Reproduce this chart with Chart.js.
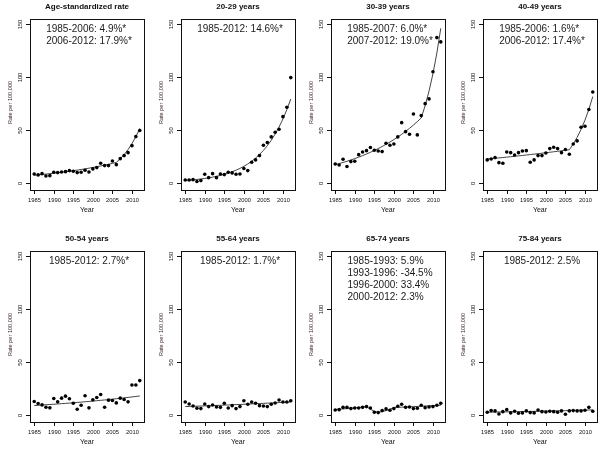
<!DOCTYPE html>
<html>
<head>
<meta charset="utf-8">
<script src="https://cdn.jsdelivr.net/npm/chart.js@4.4.1/dist/chart.umd.min.js"></script>
<style>
  html, body { margin: 0; padding: 0; background: #fff; overflow: hidden; }
  #wrap { position: relative; width: 600px; height: 453px; }
  #wrap canvas { position: absolute; }
</style>
</head>
<body>
<div id="wrap"></div>
<script>
const years = [1985, 1986, 1987, 1988, 1989, 1990, 1991, 1992, 1993, 1994, 1995, 1996, 1997, 1998,
               1999, 2000, 2001, 2002, 2003, 2004, 2005, 2006, 2007, 2008, 2009, 2010, 2011, 2012];
const xTicks = [1985, 1990, 1995, 2000, 2005, 2010];
const yTicks = [0, 50, 100, 150];

const titles = ['Age-standardized rate', '20-29 years', '30-39 years', '40-49 years',
                '50-54 years', '55-64 years', '65-74 years', '75-84 years'];
const notes = [
  ['1985-2006: 4.9%*', '2006-2012: 17.9%*'],
  ['1985-2012: 14.6%*'],
  ['1985-2007: 6.0%*', '2007-2012: 19.0%*'],
  ['1985-2006: 1.6%*', '2006-2012: 17.4%*'],
  ['1985-2012: 2.7%*'],
  ['1985-2012: 1.7%*'],
  ['1985-1993: 5.9%', '1993-1996: -34.5%', '1996-2000: 33.4%', '2000-2012: 2.3%'],
  ['1985-2012: 2.5%'],
];

// observed rates per 100,000
const obsStd = [8.2, 7.3, 8.5, 6.3, 6.6, 9.8, 9.5, 10, 10.4, 11.4, 10.7, 9.5, 9.8, 11.7,
                10.1, 13, 14.2, 18.3, 16.1, 16.1, 20.5, 17, 22.7, 25.6, 28.4, 35, 43.6, 49.3];
const obs2029 = [2.5, 2.5, 2.8, 1, 1.9, 7.9, 4.7, 8.5, 4.7, 8.2, 7.6, 9.8, 9.2, 7.9,
                 8.2, 13.3, 11.4, 19.3, 21.5, 25.6, 35.4, 37.9, 43.3, 47.7, 50.5, 62.5, 71.4, 99.5];
const obs3039 = [17.7, 16.7, 22.1, 15.2, 19.9, 20.2, 26.5, 29, 30.3, 33.2, 30.6, 30, 29.4, 37.3,
                 35.4, 36.6, 43.3, 56.8, 48.3, 45.8, 65, 45.2, 63.5, 74.8, 79.3, 105, 137.4, 133.3];
const obs4049 = [21.5, 22.4, 23.7, 18.9, 18.3, 29, 28.4, 26.2, 28.4, 30, 30.3, 19.3, 21.5, 25.6,
                 25.6, 28.1, 32.2, 33.5, 32.2, 28.4, 31.3, 26.8, 36.6, 39.5, 52.4, 53.4, 69.2, 85.9];
const obs5054 = [12.4, 10.5, 9.2, 7, 6.4, 15.3, 12.1, 15.6, 17.5, 15, 10.8, 5.1, 8.9, 17.8,
                 6.4, 14, 16.2, 19.1, 7, 13.7, 13.4, 11.1, 15.6, 14.3, 12.1, 28, 28, 32.2];
const obs5564 = [12, 10.1, 8.2, 6, 5.7, 10.1, 7.6, 9.1, 7.2, 6.9, 10.7, 6.3, 8.5, 5.7,
                 7.6, 13.2, 9.8, 12, 10.7, 8.5, 8.2, 7.6, 9.8, 11, 13.9, 12, 12, 13.2];
const obs6574 = [4.4, 4.7, 6.9, 6.9, 5.7, 6.3, 6.3, 6.9, 7.6, 6.3, 2.2, 1.9, 3.8, 5.4,
                 4.1, 5.7, 7.9, 9.8, 6.9, 7.2, 5.7, 6, 8.8, 6.6, 7.2, 7.6, 8.8, 10.7];
const obs7584 = [2.2, 3.8, 3.5, 0.6, 2.8, 4.7, 1.6, 3.2, 1.3, 1.6, 3.5, 1.9, 1.6, 4.4,
                 2.8, 2.5, 3.2, 2.8, 2.2, 3.5, 0.3, 3.5, 3.8, 3.5, 3.5, 4.1, 6.9, 3.2];

// joinpoint fitted curves
const fitStd = [7.0, 7.34, 7.7, 8.08, 8.48, 8.89, 9.33, 9.78, 10.26, 10.77, 11.29, 11.85, 12.43, 13.04,
                13.68, 14.35, 15.05, 15.79, 16.56, 17.37, 18.22, 19.12, 22.54, 26.57, 31.33, 36.94, 43.55, 51.35];
const fit2029 = [2.0, 2.29, 2.63, 3.01, 3.45, 3.95, 4.53, 5.19, 5.95, 6.82, 7.81, 8.95, 10.26, 11.76,
                 13.47, 15.44, 17.7, 20.28, 23.24, 26.63, 30.52, 34.98, 40.08, 45.93, 52.64, 60.33, 69.13, 79.23];
const fit3039 = [17.0, 18.02, 19.1, 20.25, 21.46, 22.75, 24.11, 25.56, 27.09, 28.72, 30.44, 32.27, 34.21, 36.26,
                 38.44, 40.74, 43.19, 45.78, 48.52, 51.44, 54.52, 57.79, 61.26, 72.9, 86.75, 103.2, 122.8, 146.2];
const fit4049 = [22.3, 22.66, 23.02, 23.39, 23.76, 24.14, 24.53, 24.92, 25.32, 25.73, 26.14, 26.56, 26.98, 27.41,
                 27.85, 28.3, 28.75, 29.21, 29.68, 30.15, 30.64, 31.13, 36.54, 42.9, 50.37, 59.13, 69.42, 81.5];
const fit5054 = [8.6, 8.83, 9.07, 9.32, 9.57, 9.83, 10.09, 10.36, 10.64, 10.93, 11.23, 11.53, 11.84, 12.16,
                 12.49, 12.83, 13.17, 13.53, 13.89, 14.27, 14.65, 15.05, 15.46, 15.87, 16.3, 16.74, 17.19, 17.66];
const fit5564 = [7.6, 7.73, 7.86, 7.99, 8.13, 8.27, 8.41, 8.55, 8.7, 8.84, 9.0, 9.15, 9.3, 9.46,
                 9.62, 9.79, 9.95, 10.12, 10.3, 10.47, 10.65, 10.83, 11.02, 11.2, 11.39, 11.59, 11.79, 11.99];
const fit6574 = [4.8, 5.08, 5.38, 5.7, 6.04, 6.39, 6.77, 7.17, 7.59, 4.97, 3.26, 2.13, 2.85, 3.8,
                 5.07, 6.76, 6.92, 7.08, 7.24, 7.41, 7.58, 7.75, 7.93, 8.11, 8.3, 8.49, 8.68, 8.88];
const fit7584 = [2.3, 2.36, 2.42, 2.48, 2.54, 2.6, 2.67, 2.73, 2.8, 2.87, 2.94, 3.02, 3.09, 3.17,
                 3.25, 3.33, 3.41, 3.5, 3.59, 3.68, 3.77, 3.86, 3.96, 4.06, 4.16, 4.26, 4.37, 4.48];

const observed = [obsStd, obs2029, obs3039, obs4049, obs5054, obs5564, obs6574, obs7584];
const fitted   = [fitStd, fit2029, fit3039, fit4049, fit5054, fit5564, fit6574, fit7584];

const FONT = '"Liberation Sans", Arial, sans-serif';
const panelLeft = [0, 151, 301, 453];
const rowTop = [0, 232];

const frame = {
  id: 'frame',
  afterDraw(chart, args, o) {
    const { ctx, chartArea: a, scales: { x, y } } = chart;
    const L = Math.round(a.left), T = Math.round(a.top);
    const R = Math.round(a.right), B = Math.round(a.bottom);
    ctx.save();
    ctx.strokeStyle = '#111';
    ctx.lineWidth = 1;
    ctx.strokeRect(L + 0.5, T + 0.5, R - L, B - T);

    ctx.fillStyle = '#111';
    ctx.textAlign = 'center';
    ctx.textBaseline = 'middle';

    // x axis
    ctx.font = '5.8px ' + FONT;
    xTicks.forEach(t => {
      const px = Math.round(x.getPixelForValue(t)) + 0.5;
      ctx.beginPath(); ctx.moveTo(px, B); ctx.lineTo(px, B + 4); ctx.stroke();
      ctx.fillText(String(t), px, B + 10);
    });
    ctx.font = '7px ' + FONT;
    ctx.fillText('Year', (L + R) / 2, B + 20.5);

    // y axis
    yTicks.forEach(t => {
      const py = Math.round(y.getPixelForValue(t)) + 0.5;
      ctx.beginPath(); ctx.moveTo(L - 4, py); ctx.lineTo(L, py); ctx.stroke();
      ctx.save();
      ctx.translate(L - 10, py);
      ctx.rotate(-Math.PI / 2);
      ctx.font = '5.8px ' + FONT;
      ctx.fillText(String(t), 0, 0);
      ctx.restore();
    });
    ctx.save();
    ctx.translate(L - 20, (T + B) / 2 - 2);
    ctx.rotate(-Math.PI / 2);
    ctx.font = '5.6px ' + FONT;
    ctx.fillStyle = '#3a2420';
    ctx.fillText('Rate per 100,000', 0, 0);
    ctx.restore();

    // panel title
    ctx.font = 'bold 8px ' + FONT;
    ctx.fillText(o.title, (L + R) / 2, 7);

    // APC notes, left aligned block centred in the box
    ctx.font = '10px ' + FONT;
    ctx.fillStyle = '#1a1a1a';
    const w = Math.max(...o.notes.map(s => ctx.measureText(s).width));
    const x0 = (L + R) / 2 + 2 - w / 2;
    ctx.textAlign = 'left';
    o.notes.forEach((s, i) => ctx.fillText(s, x0, T + 10.5 + i * 11.8));
    ctx.restore();
  }
};

const wrap = document.getElementById('wrap');
titles.forEach((title, i) => {
  const cv = document.createElement('canvas');
  cv.width = 150; cv.height = 226;
  cv.style.left = panelLeft[i % 4] + 'px';
  cv.style.top = rowTop[Math.floor(i / 4)] + 'px';
  wrap.appendChild(cv);

  new Chart(cv, {
    type: 'scatter',
    data: {
      datasets: [
        {
          data: years.map((yr, k) => ({ x: yr, y: observed[i][k] })),
          pointRadius: 1.8, pointBackgroundColor: '#000', pointBorderWidth: 0, showLine: false,
        },
        {
          type: 'line',
          data: years.map((yr, k) => ({ x: yr, y: fitted[i][k] })),
          borderColor: '#444', borderWidth: 1, pointRadius: 0, tension: 0, fill: false,
        },
      ],
    },
    options: {
      responsive: false,
      animation: false,
      events: [],
      layout: { padding: { left: 30, right: 6, top: 19, bottom: 36 } },
      scales: {
        x: { type: 'linear', min: 1983.92, max: 2013.08, display: false },
        y: { type: 'linear', min: -7, max: 155, display: false },
      },
      plugins: {
        legend: { display: false },
        tooltip: { enabled: false },
        frame: { title, notes: notes[i] },
      },
    },
    plugins: [frame],
  });
});
</script>
</body>
</html>
